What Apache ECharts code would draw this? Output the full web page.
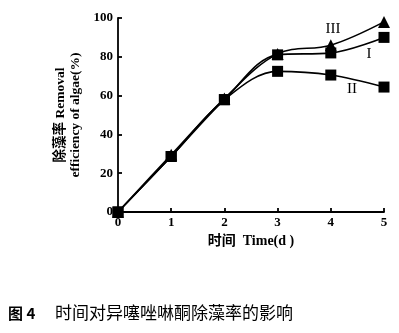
<!DOCTYPE html>
<html>
<head>
<meta charset="utf-8">
<script src="https://cdn.jsdelivr.net/npm/echarts@6/dist/echarts.min.js"></script>
<style>
  html, body { margin: 0; padding: 0; background: #fff; }
  #chart { width: 399px; height: 333px; }
</style>
</head>
<body>
<div id="chart"></div>
<script>
// Time (days)
const days = [0, 1, 2, 3, 4, 5];
// Removal efficiency of algae (%)
const seriesI = [0, 28.6, 57.9, 81.0, 82.0, 90.0];
const seriesII = [0, 28.6, 57.9, 72.5, 70.6, 64.4];
const seriesIII = [0, 29.5, 58.5, 81.5, 86.0, 98.0];
const seriesNames = ['I', 'II', 'III'];
// Where each curve's name sits, in data units
const nameSpots = [[4.72, 81.6], [4.4, 63.5], [4.04, 94.5]];

const serif = '"Liberation Serif", "DejaVu Serif", serif';
const cjk = '"Liberation Serif", "Noto Sans CJK SC", serif';

function pairs(vals) { return days.map((d, i) => [d, vals[i]]); }

function line(name, vals, symbol, size) {
  return {
    name: name, type: 'line', data: pairs(vals), smooth: 0.35,
    symbol: symbol, symbolSize: size,
    lineStyle: { color: '#000', width: 1.6 },
    itemStyle: { color: '#000' },
    z: symbol === 'triangle' ? 3 : 2
  };
}

const chart = echarts.init(document.getElementById('chart'));
chart.setOption({
  animation: false,
  backgroundColor: '#fff',
  grid: { left: 118, right: 15, top: 18, bottom: 121 },
  xAxis: {
    type: 'value', min: 0, max: 5, interval: 1,
    name: '时间  Time(d )', nameLocation: 'middle', nameGap: 22,
    nameTextStyle: { fontFamily: cjk, fontSize: 14, fontWeight: 'bold', color: '#000' },
    axisLine: { lineStyle: { color: '#000', width: 1.8 } },
    axisTick: { inside: true, length: 4, lineStyle: { color: '#000', width: 1.8 } },
    axisLabel: { fontFamily: serif, fontSize: 13, fontWeight: 'bold', color: '#000', margin: 4 },
    splitLine: { show: false }
  },
  yAxis: {
    type: 'value', min: 0, max: 100, interval: 20,
    name: '除藻率 Removal\nefficiency of algae(%)', nameLocation: 'middle', nameGap: 35,
    nameRotate: 90,
    nameTextStyle: { fontFamily: cjk, fontSize: 13.5, fontWeight: 'bold', color: '#000', lineHeight: 15 },
    axisLine: { lineStyle: { color: '#000', width: 1.8 } },
    axisTick: { inside: true, length: 4, lineStyle: { color: '#000', width: 1.8 } },
    axisLabel: { fontFamily: serif, fontSize: 13, fontWeight: 'bold', color: '#000', margin: 5 },
    splitLine: { show: false }
  },
  series: [
    line('I', seriesI, 'rect', 11),
    line('II', seriesII, 'rect', 11),
    line('III', seriesIII, 'triangle', 12)
  ]
});

// Curve names and figure caption
const texts = seriesNames.map((n, i) => {
  const p = chart.convertToPixel({ gridIndex: 0 }, nameSpots[i]);
  return {
    type: 'text', x: p[0], y: p[1],
    style: { text: n, fontFamily: serif, fontSize: 15, fill: '#000', align: 'center', verticalAlign: 'middle' }
  };
});
texts.push({
  type: 'text', x: 8, y: 313,
  style: { text: '图 4', fontFamily: '"Noto Sans CJK SC", sans-serif', fontSize: 15, fontWeight: 'bold', fill: '#000', verticalAlign: 'middle' }
});
texts.push({
  type: 'text', x: 55, y: 313,
  style: { text: '时间对异噻唑啉酮除藻率的影响', fontFamily: '"Noto Sans CJK SC", sans-serif', fontSize: 17, fill: '#000', verticalAlign: 'middle' }
});
chart.setOption({ graphic: texts });
</script>
</body>
</html>
